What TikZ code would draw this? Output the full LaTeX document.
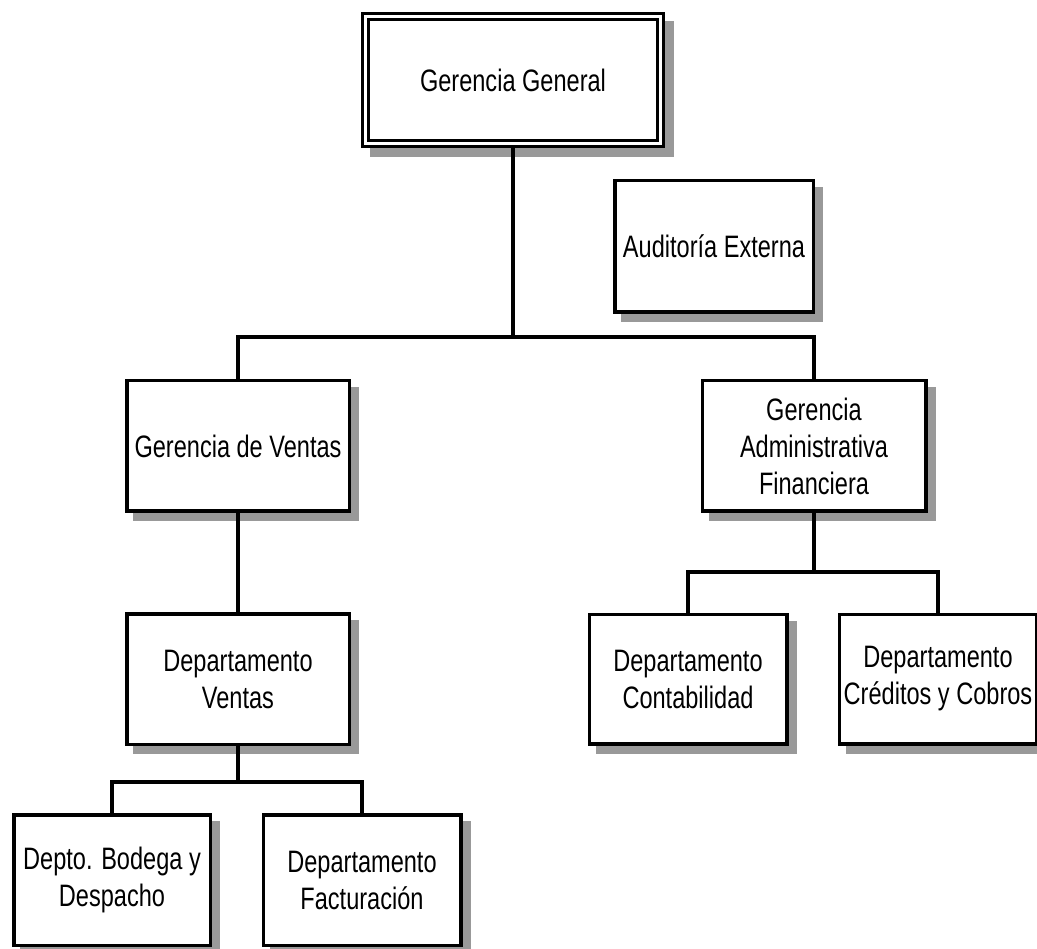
\documentclass[tikz,border=0pt]{standalone}
\usepackage{fontspec}
\setmainfont{Liberation Sans}[FakeStretch=0.76]
\usetikzlibrary{backgrounds}
\definecolor{shadowgray}{HTML}{999999}
\tikzset{
  box/.style={draw, line width=3.5pt, fill=white, rectangle, inner sep=0pt, align=center,
              font=\fontsize{31}{37}\selectfont},
  conn/.style={line width=3.5pt, line join=miter},
}
\newcommand\boxshadow[2]{\fill[shadowgray] ([shift={(#2pt,-#2pt)}]#1.north west) rectangle ([shift={(#2pt,-#2pt)}]#1.south east);}
\begin{document}
\begin{tikzpicture}[x=1pt,y=-1pt]
\useasboundingbox (0,0) rectangle (1037,949);
% nodes
\node[box, line width=3pt, double, double distance=3pt, outer sep=4.5pt, minimum width=295pt, minimum height=127pt] (gg) at (513,80) {Gerencia General};
\node[box, minimum width=198.5pt, minimum height=131.5pt] (ae) at (714,246.5) {Auditoría Externa};
\node[box, minimum width=222.5pt, minimum height=130.5pt] (gv) at (238,446) {Gerencia de Ventas};
\node[box, minimum width=223.5pt, minimum height=130.5pt] (gaf) at (814,446) {Gerencia\\Administrativa\\Financiera};
\node[box, minimum width=222.5pt, minimum height=130.5pt] (dv) at (238,679) {Departamento\\Ventas};
\node[box, minimum width=196.5pt, minimum height=130.5pt] (db) at (112,880) {Depto. Bodega y\\Despacho};
\node[box, minimum width=197.5pt, minimum height=130.5pt] (df) at (362,880) {Departamento\\Facturación};
\node[box, minimum width=197.5pt, minimum height=129.5pt] (dc) at (688,679) {Departamento\\Contabilidad};
\node[box, minimum width=197.5pt, minimum height=129.5pt] (dcc) at (938,679) {Departamento\\Créditos y Cobros};
% connectors
\coordinate (j1) at (513,337);
\coordinate (j2) at (238,782);
\coordinate (j3) at (814,572);
\draw[conn] (gg.south) -- (j1);
\draw[conn] (gv.north) |- (j1) -| (gaf.north);
\draw[conn] (gv.south) -- (dv.north);
\draw[conn] (dv.south) -- (j2);
\draw[conn] (db.north) |- (j2) -| (df.north);
\draw[conn] (gaf.south) -- (j3);
\draw[conn] (dc.north) |- (j3) -| (dcc.north);
% shadows
\begin{scope}[on background layer]
\boxshadow{gg}{9}
\boxshadow{ae}{8}
\boxshadow{gv}{8}
\boxshadow{gaf}{8}
\boxshadow{dv}{8}
\boxshadow{db}{8}
\boxshadow{df}{8}
\boxshadow{dc}{8}
\boxshadow{dcc}{8}
\end{scope}
\end{tikzpicture}
\end{document}
